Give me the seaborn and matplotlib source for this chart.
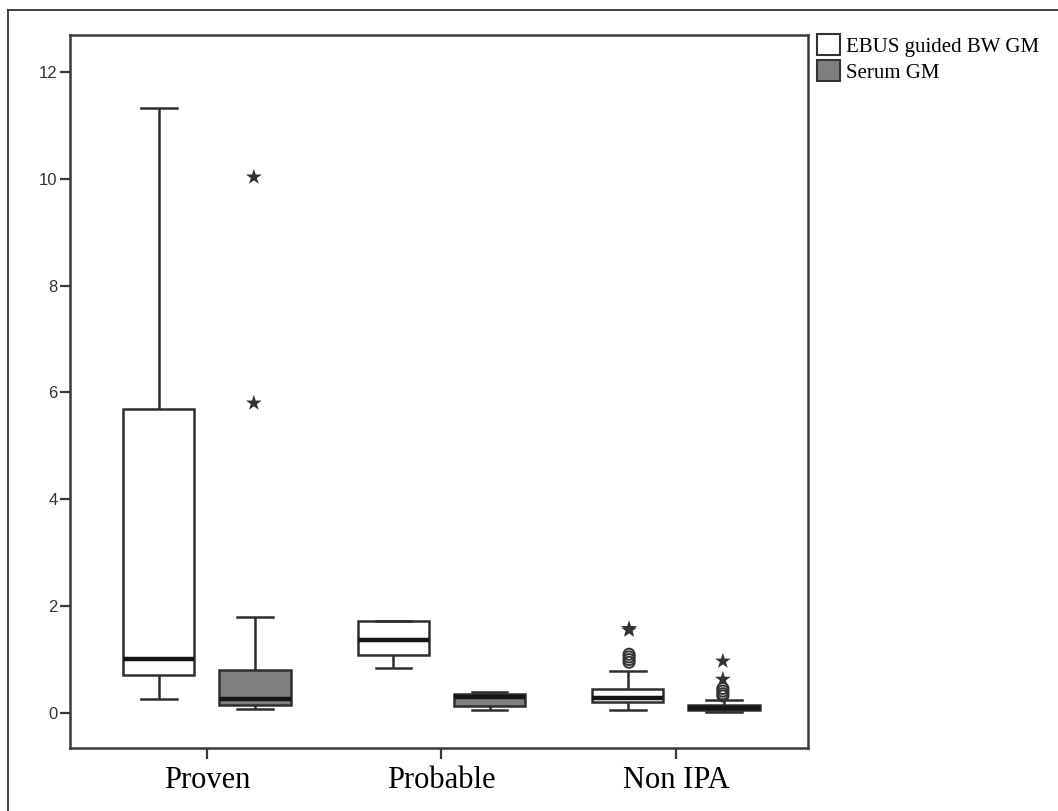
import pandas as pd
import matplotlib.pyplot as plt
import seaborn as sns
from matplotlib.patches import Patch
from matplotlib.lines import Line2D

# categories and the two tests
groups = ['Proven', 'Probable', 'Non IPA']
tests = ['EBUS guided BW GM', 'Serum GM']

# box summaries: [low whisker, Q1, median, Q3, high whisker]
ebus_stats = [
    [0.26, 0.72, 1.02, 5.69, 11.33],
    [0.84, 1.09, 1.36, 1.73, 1.73],
    [0.06, 0.21, 0.29, 0.44, 0.79],
]
serum_stats = [
    [0.07, 0.15, 0.27, 0.81, 1.80],
    [0.05, 0.13, 0.30, 0.35, 0.40],
    [0.02, 0.06, 0.10, 0.15, 0.25],
]

# outliers (circles) and extremes (stars)
circle_pts = [
    ('Non IPA', 'EBUS guided BW GM', [0.95, 1.00, 1.05, 1.10]),
    ('Non IPA', 'Serum GM', [0.32, 0.36, 0.41, 0.46]),
]
star_pts = [
    ('Proven', 'Serum GM', [5.80, 10.03]),
    ('Non IPA', 'EBUS guided BW GM', [1.55, 1.58]),
    ('Non IPA', 'Serum GM', [0.63, 0.97]),
]


def long_table(stats_by_test):
    rows = []
    for test, stats in stats_by_test.items():
        for g, vals in zip(groups, stats):
            for v in vals:
                rows.append({'group': g, 'test': test, 'value': v})
    return pd.DataFrame(rows)


def points_table(pts):
    rows = []
    for g, t, vals in pts:
        for v in vals:
            rows.append({'group': g, 'test': t, 'value': v})
    return pd.DataFrame(rows)


boxes = long_table({tests[0]: ebus_stats, tests[1]: serum_stats})
circles = points_table(circle_pts)
stars = points_table(star_pts)

fig = plt.figure(figsize=(10.58, 8.11), dpi=100)
ax = fig.add_axes([70 / 1058, 1 - 748 / 811, 738 / 1058, 713 / 811])

line_col = '#2e2e2e'
pal = {tests[0]: '#ffffff', tests[1]: '#7f7f7f'}

sns.boxplot(data=boxes, x='group', y='value', hue='test', order=groups,
            hue_order=tests, palette=pal, whis=(0, 100), showfliers=False,
            width=0.82, gap=0.26, linecolor=line_col, linewidth=1.8,
            medianprops={'color': '#151515', 'linewidth': 3.2},
            legend=False, ax=ax)

n_before = len(ax.collections)
sns.stripplot(data=circles, x='group', y='value', hue='test', order=groups,
              hue_order=tests, palette={t: '#333333' for t in tests},
              dodge=True, jitter=False, marker='o', size=8, linewidth=1.4,
              edgecolor='#333333', legend=False, ax=ax, zorder=5)
for coll in ax.collections[n_before:]:
    coll.set_facecolor('none')

sns.stripplot(data=stars, x='group', y='value', hue='test', order=groups,
              hue_order=tests, palette={t: '#333333' for t in tests},
              dodge=True, jitter=False, marker='*', size=12, linewidth=0,
              legend=False, ax=ax, zorder=5)

ax.set_xlim(-0.584, 2.563)
ax.set_ylim(-0.655, 12.69)
ax.set_yticks([0, 2, 4, 6, 8, 10, 12])
ax.set_xlabel('')
ax.set_ylabel('')

for s in ax.spines.values():
    s.set_color('#3a3a3a')
    s.set_linewidth(1.8)
ax.tick_params(axis='y', direction='out', length=7, width=1.6,
               color='#3a3a3a', labelsize=12, labelcolor='#333333', pad=2)
ax.tick_params(axis='x', direction='out', length=8, width=1.6,
               color='#3a3a3a', labelsize=22, pad=5)
for lab in ax.get_yticklabels():
    lab.set_fontfamily('Liberation Sans')
for lab in ax.get_xticklabels():
    lab.set_fontfamily('Liberation Serif')

handles = [Patch(facecolor=pal[t], edgecolor='#333333', linewidth=1.5) for t in tests]
fig.legend(handles, tests, loc='upper left',
           bbox_to_anchor=(817 / 1058, 1 - 34 / 811), frameon=False,
           prop={'family': 'Liberation Serif', 'size': 15},
           handlelength=1.1, handleheight=1.2, handletextpad=0.3,
           labelspacing=0.15, borderpad=0, borderaxespad=0)

# outer frame (left and top edges only)
fig.add_artist(Line2D([8 / 1058, 8 / 1058], [0, 1 - 10 / 811],
                      color='#333333', linewidth=1.3))
fig.add_artist(Line2D([8 / 1058, 1], [1 - 10 / 811, 1 - 10 / 811],
                      color='#333333', linewidth=1.3))

fig.savefig('out.png', dpi=100)
